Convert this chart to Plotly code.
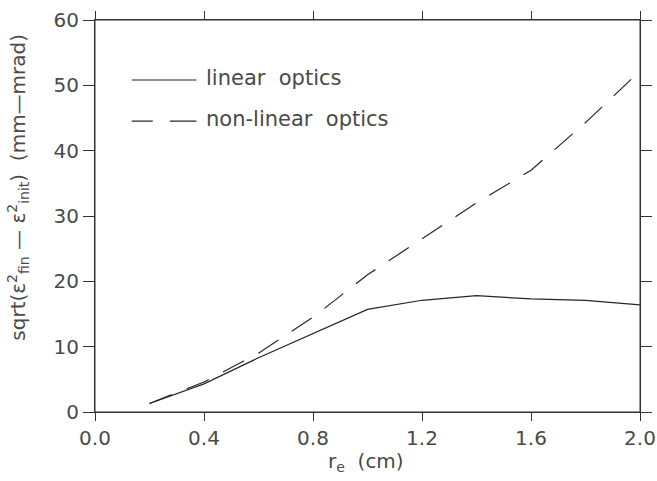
import plotly.graph_objects as go

# Data
r_e = [0.2, 0.4, 0.6, 0.8, 1.0, 1.2, 1.4, 1.6, 1.8, 2.0]
linear_optics = [1.3, 4.3, 8.3, 12.0, 15.7, 17.1, 17.8, 17.3, 17.1, 16.4]
nonlinear_optics = [1.3, 4.6, 9.0, 14.5, 21.0, 26.5, 32.0, 37.0, 44.3, 52.2]

x_ticks = [0.0, 0.4, 0.8, 1.2, 1.6, 2.0]
x_ticklabels = ["0.0", "0.4", "0.8", "1.2", "1.6", "2.0"]
y_ticks = [0, 10, 20, 30, 40, 50, 60]
y_ticklabels = ["0", "10", "20", "30", "40", "50", "60"]

series_names = ["linear  optics", "non-linear  optics"]

FONT = "DejaVu Sans"
TXT = "#4a4a4a"
LINE = "#262626"

fig = go.Figure()
fig.add_trace(go.Scatter(x=r_e, y=linear_optics, mode="lines", name=series_names[0],
                         line=dict(color=LINE, width=1.2), showlegend=False))
fig.add_trace(go.Scatter(x=r_e, y=nonlinear_optics, mode="lines", name=series_names[1],
                         line=dict(color=LINE, width=1.2, dash="24px,16px"), showlegend=False))

axis_common = dict(showline=True, linecolor="#333", linewidth=1, mirror="ticks",
                   ticks="outside", tickcolor="#333", tickwidth=1,
                   showgrid=False, zeroline=False, automargin=False,
                   tickfont=dict(family=FONT, size=20, color=TXT))

fig.update_xaxes(range=[0, 2.0], tickvals=x_ticks, ticktext=x_ticklabels, ticklen=8,
                 **axis_common)
fig.update_yaxes(range=[0, 60], tickvals=y_ticks, ticktext=y_ticklabels, ticklen=11,
                 **axis_common)

# plot frame (makes sure the right-hand border is drawn)
fig.add_shape(type="rect", xref="paper", yref="paper", x0=0, x1=1, y0=0, y1=1,
              line=dict(color="#333", width=1), layer="above")

# Axis titles
fig.add_annotation(xref="paper", yref="paper", x=0.498, y=-0.128, text="r<sub>e</sub>  (cm)",
                   showarrow=False, xanchor="center", yanchor="middle",
                   font=dict(family=FONT, size=20, color=TXT))
fig.add_annotation(xref="paper", yref="paper", x=-0.14, y=0.574,
                   text="sqrt(ε<sup>2</sup><sub>fin</sub> — ε<sup>2</sup><sub>init</sub>)  (mm—mrad)",
                   showarrow=False, textangle=-90, xanchor="center", yanchor="middle",
                   font=dict(family=FONT, size=20, color=TXT))

# Legend drawn inside the plot (top-left), as in the reference
legend_y = [0.847, 0.742]
legend_dash = ["solid", "21px,17px,40px"]
for name, yy, dash in zip(series_names, legend_y, legend_dash):
    fig.add_shape(type="line", xref="paper", yref="paper", x0=0.0675, x1=0.186, y0=yy, y1=yy,
                  line=dict(color=LINE, width=1.2, dash=dash))
    fig.add_annotation(xref="paper", yref="paper", x=0.2007, y=yy + 0.005, text=name,
                       showarrow=False, xanchor="left", yanchor="middle",
                       font=dict(family=FONT, size=21, color=TXT))

fig.update_layout(width=657, height=481, margin=dict(l=95, r=17, t=20, b=69),
                  paper_bgcolor="white", plot_bgcolor="white", showlegend=False)

# remove the default page margin / scrollbars so the figure fills the window exactly
fig.write_html("out.html", config={"displayModeBar": False}, post_script=(
    "document.body.style.margin='0';"
    "document.body.style.overflow='hidden';"
    "document.documentElement.style.overflow='hidden';"))
